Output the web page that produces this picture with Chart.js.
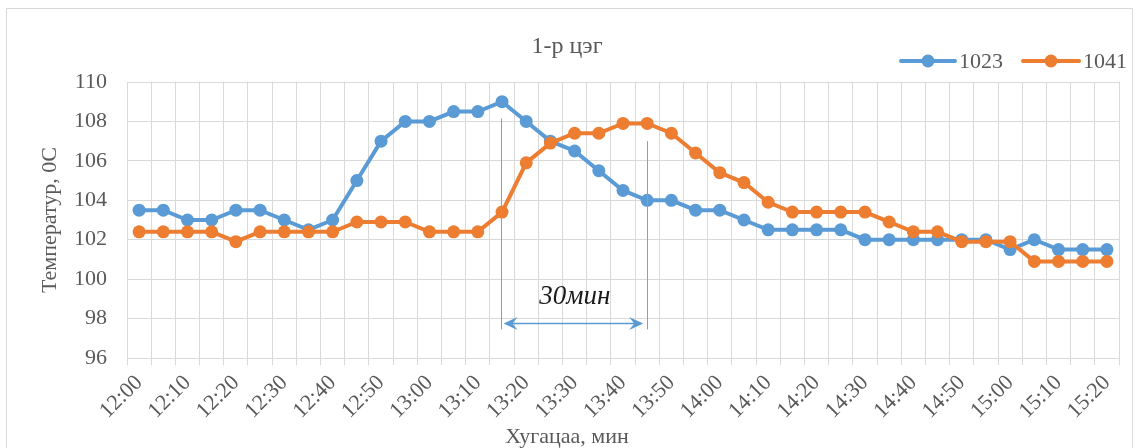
<!DOCTYPE html>
<html>
<head>
<meta charset="utf-8">
<script src="https://cdn.jsdelivr.net/npm/chart.js@4.4.1/dist/chart.umd.min.js"></script>
<style>
  html, body { margin: 0; padding: 0; background: #ffffff; }
  #wrap { width: 1139px; height: 448px; position: relative; }
</style>
</head>
<body>
<div id="wrap"><canvas id="c" width="1139" height="448"></canvas></div>
<script>
// ---- data ----
const chartTitle = '1-р цэг';
const xAxisTitle = 'Хугацаа, мин';
const yAxisTitle = 'Температур, 0С';

const times = [
  '12:00','12:05','12:10','12:15','12:20','12:25','12:30','12:35','12:40','12:45',
  '12:50','12:55','13:00','13:05','13:10','13:15','13:20','13:25','13:30','13:35',
  '13:40','13:45','13:50','13:55','14:00','14:05','14:10','14:15','14:20','14:25',
  '14:30','14:35','14:40','14:45','14:50','14:55','15:00','15:05','15:10','15:15','15:20'
];

const seriesNames = ['1023', '1041'];

const temp1023 = [
  103.5,103.5,103,103,103.5,103.5,103,102.5,103,105,
  107,108,108,108.5,108.5,109,108,107,106.5,105.5,
  104.5,104,104,103.5,103.5,103,102.5,102.5,102.5,102.5,
  102,102,102,102,102,102,101.5,102,101.5,101.5,101.5
];

const temp1041 = [
  102.4,102.4,102.4,102.4,101.9,102.4,102.4,102.4,102.4,102.9,
  102.9,102.9,102.4,102.4,102.4,103.4,105.9,106.9,107.4,107.4,
  107.9,107.9,107.4,106.4,105.4,104.9,103.9,103.4,103.4,103.4,
  103.4,102.9,102.4,102.4,101.9,101.9,101.9,100.9,100.9,100.9,100.9
];

const yMin = 96, yMax = 110, yStep = 2;

// delay annotation (in data units)
const delayFrom = '13:15';
const delayTo = '13:45';
const delayText = '30мин';
const delayFromTop = 108.15;
const delayToTop = 107.0;
const delayBottom = 97.45;
const delayArrowAt = 97.75;
const delayTextAt = 99.1;

// ---- styling ----
const BLUE = '#5B9BD5';
const ORANGE = '#ED7D31';
const GRID = '#D9D9D9';
const TEXT = '#595959';
const SERIF = '"Liberation Serif", "Times New Roman", serif';

const decor = {
  id: 'decor',
  beforeDraw(chart) {
    const ctx = chart.ctx;
    ctx.save();
    ctx.fillStyle = '#ffffff';
    ctx.fillRect(0, 0, chart.width, chart.height);
    ctx.strokeStyle = GRID;
    ctx.lineWidth = 1;
    ctx.strokeRect(6.5, 8.5, 1126, 460);
    ctx.restore();
  },
  afterDatasetsDraw(chart) {
    const ctx = chart.ctx;
    const xs = chart.scales.x, ys = chart.scales.y;
    const x1 = xs.getPixelForValue(times.indexOf(delayFrom)) - 1.5;
    const x2 = xs.getPixelForValue(times.indexOf(delayTo));
    const yb = ys.getPixelForValue(delayBottom);
    ctx.save();
    ctx.strokeStyle = '#6FA6DA';
    ctx.lineWidth = 1;
    ctx.beginPath();
    ctx.moveTo(Math.round(x1) + 0.5, ys.getPixelForValue(delayFromTop));
    ctx.lineTo(Math.round(x1) + 0.5, yb);
    ctx.moveTo(Math.round(x2) + 0.5, ys.getPixelForValue(delayToTop));
    ctx.lineTo(Math.round(x2) + 0.5, yb);
    ctx.stroke();
    // double arrow
    const ya = ys.getPixelForValue(delayArrowAt);
    const a1 = x1 + 3, a2 = x2 - 4;
    ctx.strokeStyle = BLUE;
    ctx.lineWidth = 1.5;
    ctx.beginPath();
    ctx.moveTo(a1 + 6, ya);
    ctx.lineTo(a2 - 6, ya);
    ctx.stroke();
    ctx.fillStyle = BLUE;
    ctx.beginPath();
    ctx.moveTo(a1, ya);
    ctx.lineTo(a1 + 14, ya - 6.5);
    ctx.lineTo(a1 + 9, ya);
    ctx.lineTo(a1 + 14, ya + 6.5);
    ctx.closePath();
    ctx.fill();
    ctx.beginPath();
    ctx.moveTo(a2, ya);
    ctx.lineTo(a2 - 14, ya - 6.5);
    ctx.lineTo(a2 - 9, ya);
    ctx.lineTo(a2 - 14, ya + 6.5);
    ctx.closePath();
    ctx.fill();
    // text
    ctx.fillStyle = '#1a1a1a';
    ctx.font = 'italic 27px ' + SERIF;
    ctx.textAlign = 'center';
    ctx.textBaseline = 'middle';
    ctx.fillText(delayText, (x1 + x2) / 2 + 1, ys.getPixelForValue(delayTextAt));
    ctx.restore();
  },
  afterDraw(chart) {
    const ctx = chart.ctx;
    ctx.save();
    // chart title
    ctx.fillStyle = TEXT;
    ctx.textAlign = 'center';
    ctx.textBaseline = 'middle';
    ctx.font = '24px ' + SERIF;
    ctx.fillText(chartTitle, 567, 47);
    // x axis title
    ctx.font = '22px ' + SERIF;
    ctx.fillText(xAxisTitle, 567, 437);
    // legend
    const items = [
      { name: seriesNames[0], color: BLUE, x0: 901, x1: 955 },
      { name: seriesNames[1], color: ORANGE, x0: 1023, x1: 1079 }
    ];
    const ly = 61;
    ctx.font = '22px ' + SERIF;
    ctx.textAlign = 'left';
    items.forEach(it => {
      ctx.strokeStyle = it.color;
      ctx.lineWidth = 4;
      ctx.lineCap = 'round';
      ctx.beginPath();
      ctx.moveTo(it.x0, ly);
      ctx.lineTo(it.x1, ly);
      ctx.stroke();
      ctx.fillStyle = it.color;
      ctx.beginPath();
      ctx.arc((it.x0 + it.x1) / 2, ly, 6.5, 0, Math.PI * 2);
      ctx.fill();
      ctx.fillStyle = TEXT;
      ctx.fillText(it.name, it.x1 + 4, ly + 1);
    });
    ctx.restore();
  }
};

new Chart(document.getElementById('c'), {
  type: 'line',
  data: {
    labels: times,
    datasets: [
      {
        label: seriesNames[0],
        data: temp1023,
        borderColor: BLUE,
        backgroundColor: BLUE,
        pointBackgroundColor: BLUE,
        pointBorderWidth: 0,
        pointRadius: 6.5,
        borderWidth: 4,
        tension: 0,
        order: 1
      },
      {
        label: seriesNames[1],
        data: temp1041,
        borderColor: ORANGE,
        backgroundColor: ORANGE,
        pointBackgroundColor: ORANGE,
        pointBorderWidth: 0,
        pointRadius: 6.5,
        borderWidth: 4,
        tension: 0,
        order: 0
      }
    ]
  },
  options: {
    responsive: false,
    animation: false,
    devicePixelRatio: 1,
    layout: { padding: { left: 0, right: 20, top: 82, bottom: 0 } },
    plugins: {
      legend: { display: false },
      title: { display: false },
      tooltip: { enabled: false }
    },
    scales: {
      x: {
        type: 'category',
        offset: true,
        grid: { offset: true, color: GRID, lineWidth: 1, drawTicks: true, tickLength: 7, tickColor: GRID },
        border: { display: true, color: GRID },
        ticks: {
          autoSkip: false,
          maxRotation: 45,
          minRotation: 45,
          padding: 5,
          color: TEXT,
          font: { family: SERIF, size: 22 },
          callback: (v, i) => (i % 2 === 0 ? times[i] : '')
        },
        afterFit: (s) => { s.height = 90; }
      },
      y: {
        min: yMin,
        max: yMax,
        grid: { color: GRID, lineWidth: 1, drawTicks: false },
        border: { display: false },
        ticks: {
          stepSize: yStep,
          padding: 20,
          color: TEXT,
          font: { family: SERIF, size: 22 }
        },
        title: {
          display: true,
          text: yAxisTitle,
          color: TEXT,
          font: { family: SERIF, size: 22 },
          padding: { top: 37, bottom: 0 }
        },
        afterFit: (s) => { s.width = 127; }
      }
    }
  },
  plugins: [decor]
});
</script>
</body>
</html>
